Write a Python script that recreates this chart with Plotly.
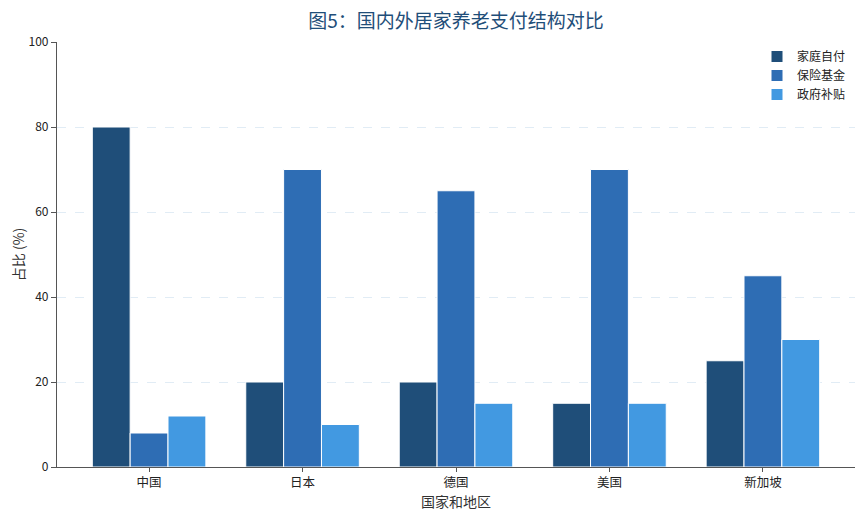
import plotly.graph_objects as go

categories = ["中国", "日本", "德国", "美国", "新加坡"]
family_pay = [80, 20, 20, 15, 25]
insurance = [8, 70, 65, 70, 45]
government = [12, 10, 15, 15, 30]
series_names = ["家庭自付", "保险基金", "政府补贴"]
colors = ["#1f4e79", "#2e6db4", "#4299e1"]

fig = go.Figure()
for name, vals, c in zip(series_names, [family_pay, insurance, government], colors):
    fig.add_trace(go.Bar(
        x=categories, y=vals, name=name,
        marker=dict(color=c, line=dict(color="white", width=1)),
    ))

fig.update_layout(
    width=864, height=518,
    margin=dict(l=49, r=17, t=34, b=59, autoexpand=False),
    paper_bgcolor="white", plot_bgcolor="white",
    font=dict(family="Noto Sans CJK SC", size=12, color="#222"),
    barmode="group", bargap=0.26, bargroupgap=0.0,
    title=dict(text="图5：国内外居家养老支付结构对比", x=0.5185, xanchor="center",
               y=0.974, yanchor="middle",
               font=dict(size=19, color="#1f4e79")),
    legend=dict(x=0.995, y=1.0, xanchor="right", yanchor="top",
                bgcolor="rgba(255,255,255,0)", font=dict(size=12),
                traceorder="normal", itemwidth=30),
    showlegend=True,
)
fig.update_xaxes(
    range=[-0.6, 4.6], showline=True, linecolor="#555", linewidth=1.2,
    ticks="outside", ticklen=4, tickcolor="#555", showgrid=False,
    title=dict(text="国家和地区", font=dict(size=14, color="#333"), standoff=2),
    tickfont=dict(size=12.5, color="#222"), automargin=False,
)
fig.update_yaxes(
    range=[0, 100], dtick=20, showline=True, linecolor="#555", linewidth=1.2,
    ticks="outside", ticklen=5, tickcolor="#555",
    showgrid=True, gridcolor="#e1ecf5", griddash="dash", gridwidth=1,
    zeroline=False,
    title=dict(text="占比 (%)", font=dict(size=14, color="#333"), standoff=6),
    tickfont=dict(size=12, color="#222"), automargin=False,
)
fig.write_html("out.html")
